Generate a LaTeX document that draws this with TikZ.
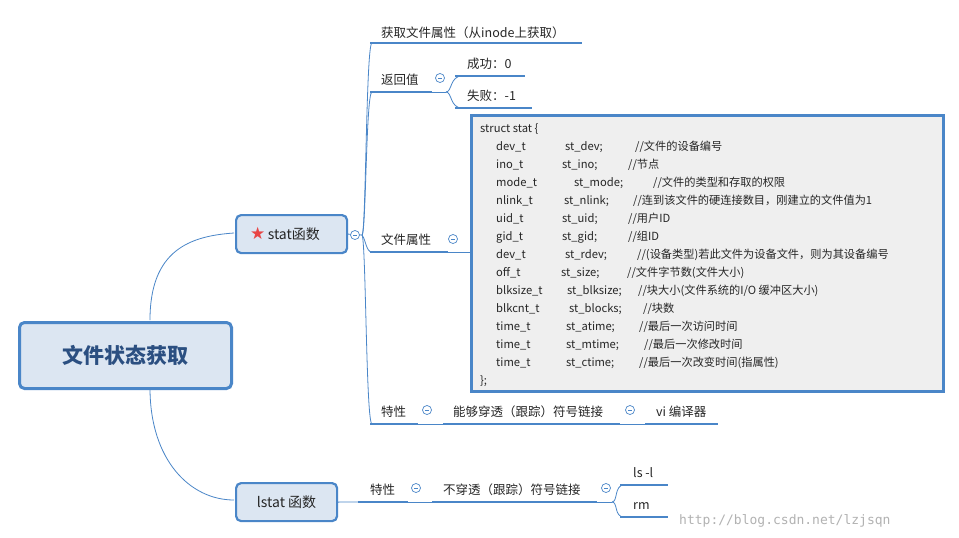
\documentclass[tikz,border=0pt]{standalone}
\usepackage{fontspec}
\setmainfont{Noto Sans CJK SC}
\newfontfamily\wm{DejaVu Sans Mono}
\newfontfamily\sym{DejaVu Sans}
\definecolor{bl}{HTML}{4A86C8}
\definecolor{nodefill}{HTML}{DCE6F2}
\definecolor{rootfg}{HTML}{2B4F81}
\definecolor{boxfill}{HTML}{EFEFEF}
\tikzset{
  conn/.style={draw=bl, line width=0.8pt},
  uline/.style={draw=bl, line width=2.6pt},
  lbl/.style={font=\fontsize{12.5}{14}\selectfont, anchor=base west, inner sep=0pt, text=black!85},
  sl/.style={font=\fontsize{11.2}{13}\selectfont, anchor=base west, inner sep=0pt, text=black!85},
  coll/.style={circle, draw=bl, fill=white, minimum size=9pt, inner sep=0pt, line width=0.7pt},
  topic/.style={draw=bl, fill=nodefill, rounded corners=5pt, line width=2.2pt}
}
\newcommand{\collmark}[2]{\node[coll] (#1) at (#2) {}; \draw[bl, line width=0.7pt] ([xshift=-2.2pt]#1.center) -- ([xshift=2.2pt]#1.center);}
\begin{document}
\begin{tikzpicture}[x=1pt,y=-1pt]
\useasboundingbox[fill=white] (0,0) rectangle (959,538);
% main connectors
\draw[conn] (150,320) .. controls (150,250) and (190,236) .. (234,233);
\draw[conn] (150,388) .. controls (150,460) and (190,500) .. (234,500);
% root
\node[topic, line width=3pt, minimum width=212pt, minimum height=66pt, anchor=north west, font=\fontsize{21}{24}\selectfont\bfseries, text=rootfg] (root) at (18,321) {文件状态获取};
% stat
\node[topic, minimum width=111pt, minimum height=38pt, anchor=north west] (stat) at (235,214) {};
\node[anchor=west, inner sep=0pt, font=\fontsize{14}{16}\selectfont, text=black!85] (statt) at (250,234) {{\sym\color[HTML]{E84545}\fontsize{17}{17}\selectfont ★}\,stat函数};
% lstat
\node[topic, minimum width=101pt, minimum height=38pt, anchor=north west, font=\fontsize{14}{16}\selectfont, text=black!85] (lstat) at (235,482) {lstat 函数};
% stat branches
\coordinate (sj) at (362,235);
\draw[conn] (stat.east) -- (sj);
\draw[conn] (sj) .. controls (366,235) and (366,43) .. (372,43);
\draw[conn] (sj) .. controls (366,235) and (366,92) .. (372,92);
\draw[conn] (sj) .. controls (366,240) and (366,252) .. (372,252);
\draw[conn] (sj) .. controls (366,240) and (366,424) .. (372,424);
\collmark{c1}{355,235}
% top
\node[lbl] (t1) at (381,37) {获取文件属性（从inode上获取）};
\draw[uline] (370,43) -- (582,43);
% return
\node[lbl] (rv) at (381,84) {返回值};
\draw[uline] (370,92) -- (432,92);
\draw[conn] (432,92) -- (446,92);
\draw[conn] (446,92) .. controls (452,92) and (450,76) .. (462,76);
\draw[conn] (446,92) .. controls (452,92) and (450,108) .. (462,108);
\collmark{c2}{440,78}
\node[lbl] (ok) at (467,68) {成功：0};
\draw[uline] (455,76) -- (525,76);
\node[lbl] (fail) at (467,100) {失败：-1};
\draw[uline] (455,108) -- (532,108);
% attributes
\node[lbl] (attr) at (381,244) {文件属性};
\draw[uline] (370,252) -- (448,252);
\draw[conn] (448,252) -- (470,252);
\collmark{c3}{453,239}
\node[draw=bl, fill=boxfill, line width=2.5pt, anchor=north west, minimum width=472pt, minimum height=276pt, inner sep=0pt] (box) at (470,114) {};
\node[sl] (s0) at (480,132) {struct stat \{};
\foreach \i/\xty/\xfx/\xfd/\xcx/\xcm in {
 0/dev\_t/565/st\_dev;/635/{//文件的设备编号},
 1/ino\_t/562/st\_ino;/628/{//节点},
 2/mode\_t/574/st\_mode;/653/{//文件的类型和存取的权限},
 3/nlink\_t/564/st\_nlink;/633/{//连到该文件的硬连接数目，刚建立的文件值为1},
 4/uid\_t/562/st\_uid;/628/{//用户ID},
 5/gid\_t/562/st\_gid;/628/{//组ID},
 6/dev\_t/565/st\_rdev;/637/{//(设备类型)若此文件为设备文件，则为其设备编号},
 7/off\_t/561/st\_size;/627/{//文件字节数(文件大小)},
 8/blksize\_t/567/st\_blksize;/638/{//块大小(文件系统的I/O 缓冲区大小)},
 9/blkcnt\_t/569/st\_blocks;/643/{//块数},
 10/time\_t/566/st\_atime;/639/{//最后一次访问时间},
 11/time\_t/566/st\_mtime;/644/{//最后一次修改时间},
 12/time\_t/566/st\_ctime;/639/{//最后一次改变时间(指属性)}}{
  \node[sl] (ty\i) at (496,{150+18*\i}) {\xty};
  \node[sl] (fd\i) at (\xfx,{150+18*\i}) {\xfd};
  \node[sl] (cm\i) at (\xcx,{150+18*\i}) {\xcm};
}
\node[sl] (s14) at (480,384) {\};};
% property
\node[lbl] (pr) at (381,416) {特性};
\draw[uline] (370,424) -- (418,424);
\collmark{c4}{427,410}
\draw[conn] (418,424) -- (443,424);
\node[lbl] (pen) at (453,416) {能够穿透（跟踪）符号链接};
\draw[uline] (443,424) -- (620,424);
\collmark{c5}{630,410}
\draw[conn] (620,424) -- (645,424);
\node[lbl] (vi) at (656,416) {vi 编译器};
\draw[uline] (645,424) -- (718,424);
% lstat branches
\draw[conn] (lstat.east) -- (358,502);
\node[lbl] (pr2) at (370,494) {特性};
\draw[uline] (358,502) -- (408,502);
\collmark{c7}{416,488}
\draw[conn] (408,502) -- (432,502);
\node[lbl] (np) at (443,494) {不穿透（跟踪）符号链接};
\draw[uline] (432,502) -- (597,502);
\collmark{c8}{606,488}
\coordinate (lj) at (612,502);
\draw[conn] (597,502) -- (lj);
\draw[conn] (lj) .. controls (618,502) and (614,485) .. (624,485);
\draw[conn] (lj) .. controls (618,502) and (614,517) .. (624,517);
\node[lbl] (ls) at (633,477) {ls -l};
\draw[uline] (620,485) -- (668,485);
\node[lbl] (rm) at (633,509) {rm};
\draw[uline] (620,517) -- (668,517);
% watermark
\node[anchor=base west, inner sep=0pt, font=\wm\fontsize{13}{15}\selectfont, text=black!30] (wmk) at (679,524) {http://blog.csdn.net/lzjsqn};
\end{tikzpicture}
\end{document}
